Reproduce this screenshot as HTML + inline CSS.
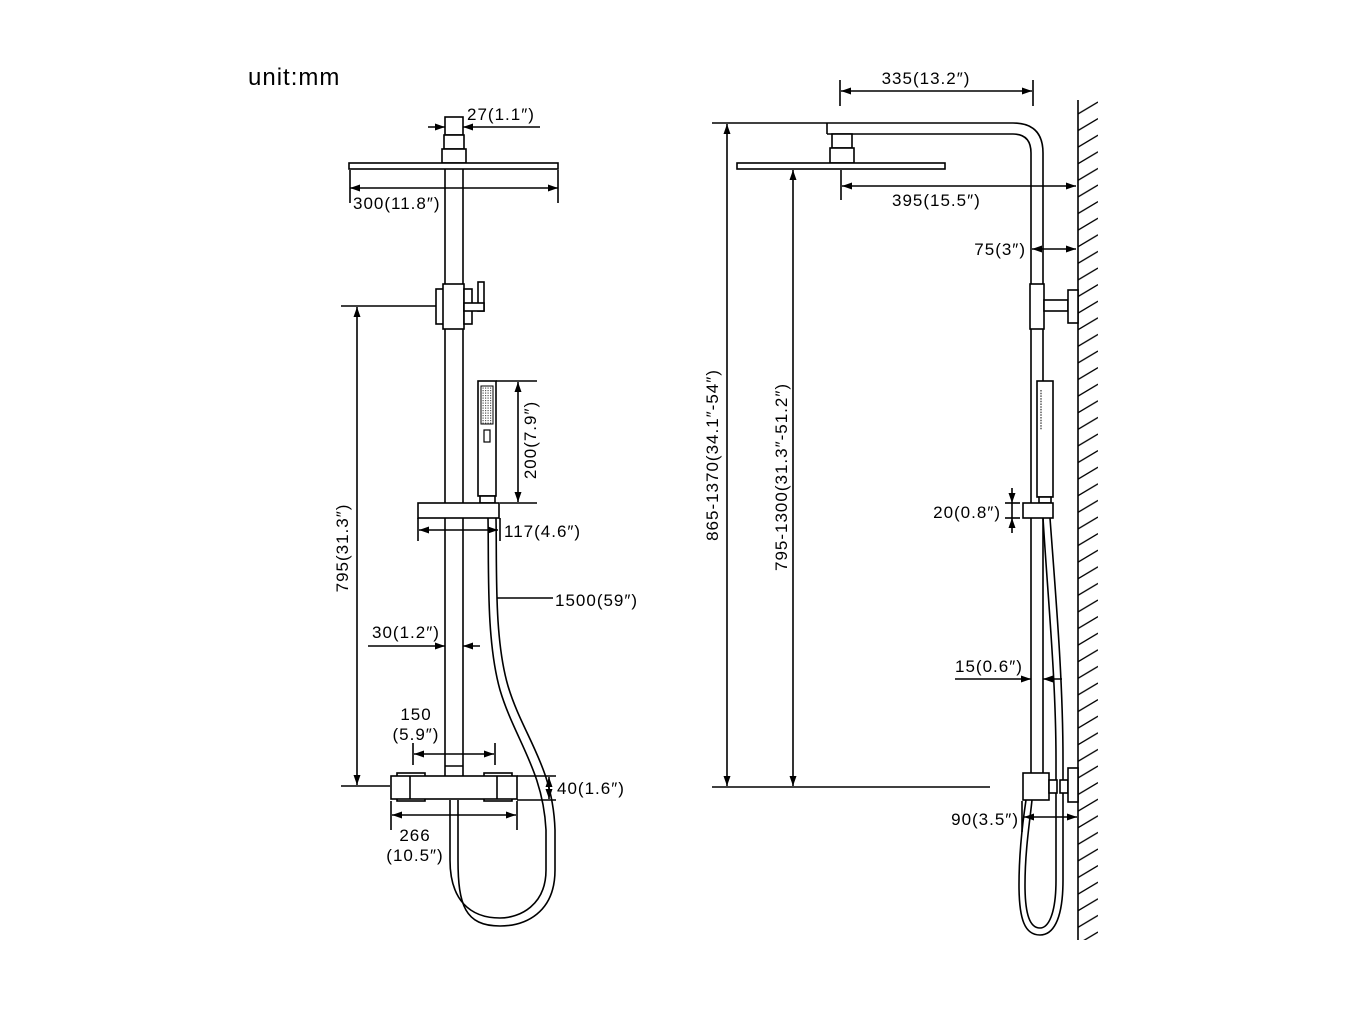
<!DOCTYPE html>
<html><head><meta charset="utf-8"><style>
html,body{margin:0;padding:0;background:#fff}
svg{display:block}
text{font-family:"Liberation Sans",Arial,sans-serif;font-size:17px;letter-spacing:1px;fill:#000}
</style></head><body>
<svg width="1346" height="1010" viewBox="0 0 1346 1010" xmlns="http://www.w3.org/2000/svg">
<defs>
<marker id="a" viewBox="0 0 10 10" refX="10" refY="5" markerWidth="10" markerHeight="10" markerUnits="userSpaceOnUse" orient="auto-start-reverse"><path d="M0,1.5 L10,5 L0,8.5 Z" fill="#000"/></marker>
<pattern id="h" width="20" height="16.6" patternUnits="userSpaceOnUse" x="1078" y="100"><line x1="0" y1="14" x2="20" y2="2" stroke="#000" stroke-width="1.3"/></pattern>
<pattern id="d" width="2.5" height="2.5" patternUnits="userSpaceOnUse"><rect width="1.2" height="1.2" fill="#555"/></pattern>
</defs>
<g stroke="#000" stroke-width="1.6" fill="none">
<text x="248" y="85" style="font-size:24px;letter-spacing:1px" stroke="none">unit:mm</text>

<!-- LEFT VIEW -->
<rect x="445" y="117" width="18" height="18" fill="#fff"/>
<rect x="444" y="135" width="20" height="14" fill="#fff"/>
<rect x="442" y="149" width="24" height="14" fill="#fff"/>
<rect x="349" y="163" width="209" height="6" fill="#fff"/>
<line x1="445" y1="169" x2="445" y2="776"/><line x1="463" y1="169" x2="463" y2="776"/>
<line x1="445" y1="766" x2="463" y2="766"/>
<line x1="428" y1="127" x2="445" y2="127" marker-end="url(#a)"/>
<line x1="540" y1="127" x2="463" y2="127" marker-end="url(#a)"/>
<text x="467" y="120" stroke="none">27(1.1″)</text>
<line x1="350" y1="170" x2="350" y2="203"/><line x1="558" y1="170" x2="558" y2="203"/>
<line x1="350" y1="188" x2="558" y2="188" marker-start="url(#a)" marker-end="url(#a)"/>
<text x="353" y="209" stroke="none">300(11.8″)</text>
<rect x="436" y="289" width="8" height="35" fill="#fff"/>
<rect x="443" y="284" width="21" height="45" fill="#fff"/>
<rect x="464" y="289" width="8" height="35" fill="#fff"/>
<rect x="478" y="282" width="6" height="29" fill="#fff"/>
<rect x="464" y="303" width="20" height="8" fill="#fff"/>
<line x1="341" y1="306" x2="436" y2="306"/>
<line x1="341" y1="786" x2="390" y2="786"/>
<line x1="357" y1="307" x2="357" y2="785" marker-start="url(#a)" marker-end="url(#a)"/>
<text transform="translate(348,548) rotate(-90)" text-anchor="middle" stroke="none">795(31.3″)</text>
<rect x="478" y="381" width="18" height="115" fill="#fff"/>
<rect x="481" y="386" width="12" height="38" stroke-width="1" fill="url(#d)"/>
<rect x="484" y="430" width="6" height="12" stroke-width="1.2"/>
<rect x="480" y="496" width="15" height="7" fill="#fff"/>
<line x1="496" y1="381" x2="537" y2="381"/><line x1="500" y1="503" x2="537" y2="503"/>
<line x1="518" y1="382" x2="518" y2="502" marker-start="url(#a)" marker-end="url(#a)"/>
<text transform="translate(536,440) rotate(-90)" text-anchor="middle" stroke="none">200(7.9″)</text>
<rect x="418" y="503" width="81" height="15" fill="#fff"/>
<line x1="418" y1="518" x2="418" y2="541"/><line x1="500" y1="518" x2="500" y2="541"/>
<line x1="419" y1="530" x2="498" y2="530" marker-start="url(#a)" marker-end="url(#a)"/>
<text x="504" y="537" stroke="none">117(4.6″)</text>
<path d="M488,518 C489,570 486,640 500,690 C515,740 543,770 546,830 L546,870 C546,905 520,918 500,918 C470,918 450,900 450,860 L450,800"/>
<path d="M496,518 C497,570 494,638 508,686 C523,736 553,766 555,830 L555,870 C555,913 525,926 500,926 C465,926 458,905 458,860 L458,800"/>
<line x1="497" y1="598" x2="553" y2="598"/>
<text x="555" y="606" stroke="none">1500(59″)</text>
<line x1="368" y1="646" x2="445" y2="646" marker-end="url(#a)"/>
<line x1="480" y1="646" x2="463" y2="646" marker-end="url(#a)"/>
<text x="372" y="638" stroke="none">30(1.2″)</text>
<text x="416" y="720" text-anchor="middle" stroke="none">150</text>
<text x="416" y="740" text-anchor="middle" stroke="none">(5.9″)</text>
<line x1="413" y1="743" x2="413" y2="765"/><line x1="495" y1="743" x2="495" y2="765"/>
<line x1="414" y1="754" x2="494" y2="754" marker-start="url(#a)" marker-end="url(#a)"/>
<rect x="397" y="773" width="28" height="28" fill="#fff"/>
<rect x="484" y="773" width="28" height="28" fill="#fff"/>
<rect x="391" y="776" width="126" height="23" fill="#fff"/>
<line x1="410" y1="776" x2="410" y2="799"/><line x1="497" y1="776" x2="497" y2="799"/>
<line x1="517" y1="776" x2="556" y2="776"/><line x1="517" y1="800" x2="556" y2="800"/>
<line x1="549" y1="788" x2="549" y2="777" marker-end="url(#a)"/>
<line x1="549" y1="788" x2="549" y2="799" marker-end="url(#a)"/>
<text x="557" y="794" stroke="none">40(1.6″)</text>
<line x1="391" y1="801" x2="391" y2="830"/><line x1="517" y1="801" x2="517" y2="830"/>
<line x1="392" y1="815" x2="516" y2="815" marker-start="url(#a)" marker-end="url(#a)"/>
<text x="415" y="841" text-anchor="middle" stroke="none">266</text>
<text x="415" y="861" text-anchor="middle" stroke="none">(10.5″)</text>

<!-- RIGHT VIEW -->
<rect x="1078" y="100" width="20" height="840" fill="url(#h)" stroke="none"/>
<line x1="1078" y1="100" x2="1078" y2="940"/>
<path d="M827,123 L1013,123 Q1043,123 1043,153 L1043,773"/>
<path d="M827,134 L1013,134 Q1031,134 1031,153 L1031,773"/>
<line x1="827" y1="123" x2="827" y2="134"/>
<rect x="832" y="134" width="20" height="14" fill="#fff"/>
<rect x="830" y="148" width="24" height="15" fill="#fff"/>
<rect x="737" y="163" width="208" height="6" fill="#fff"/>
<line x1="840" y1="80" x2="840" y2="106"/><line x1="1033" y1="80" x2="1033" y2="106"/>
<line x1="841" y1="91" x2="1032" y2="91" marker-start="url(#a)" marker-end="url(#a)"/>
<text x="926" y="84" text-anchor="middle" stroke="none">335(13.2″)</text>
<line x1="841" y1="170" x2="841" y2="200"/>
<line x1="842" y1="186" x2="1076" y2="186" marker-start="url(#a)" marker-end="url(#a)"/>
<text x="892" y="206" stroke="none">395(15.5″)</text>
<line x1="1032" y1="249" x2="1076" y2="249" marker-start="url(#a)" marker-end="url(#a)"/>
<text x="1026" y="255" text-anchor="end" stroke="none">75(3″)</text>
<rect x="1030" y="284" width="14" height="45" fill="#fff"/>
<rect x="1044" y="300" width="24" height="11" fill="#fff"/>
<rect x="1068" y="290" width="10" height="33" fill="#fff"/>
<rect x="1037" y="381" width="16" height="116" fill="#fff"/>
<line x1="1041" y1="390" x2="1041" y2="430" stroke-width="1" stroke-dasharray="1.5 1.2"/>
<rect x="1039" y="497" width="12" height="6" fill="#fff"/>
<rect x="1023" y="503" width="30" height="15" fill="#fff"/>
<line x1="1005" y1="503" x2="1020" y2="503"/><line x1="1005" y1="518" x2="1020" y2="518"/>
<line x1="1012" y1="488" x2="1012" y2="503" marker-end="url(#a)"/>
<line x1="1012" y1="533" x2="1012" y2="518" marker-end="url(#a)"/>
<line x1="1012" y1="503" x2="1012" y2="518"/>
<text x="1001" y="518" text-anchor="end" stroke="none">20(0.8″)</text>
<path d="M1043,518 C1048,600 1056,680 1056,760 L1056,880 C1056,915 1048,928 1040,928 C1030,928 1025,915 1025,885 C1025,850 1030,820 1032,800"/>
<path d="M1050,518 C1056,600 1063,680 1063,760 L1063,880 C1063,922 1052,935 1040,935 C1025,935 1019,920 1019,885 C1019,850 1023,820 1026,800"/>
<line x1="955" y1="679" x2="1031" y2="679" marker-end="url(#a)"/>
<line x1="1062" y1="679" x2="1043" y2="679" marker-end="url(#a)"/>
<text x="955" y="672" stroke="none">15(0.6″)</text>
<rect x="1023" y="773" width="26" height="27" fill="#fff"/>
<rect x="1049" y="780" width="8" height="13" fill="#fff"/>
<rect x="1060" y="780" width="8" height="13" fill="#fff"/>
<rect x="1068" y="768" width="10" height="34" fill="#fff"/>
<line x1="1022" y1="801" x2="1022" y2="832"/>
<line x1="1024" y1="817" x2="1077" y2="817" marker-start="url(#a)" marker-end="url(#a)"/>
<text x="1019" y="825" text-anchor="end" stroke="none">90(3.5″)</text>
<line x1="712" y1="123" x2="827" y2="123"/>
<line x1="712" y1="787" x2="990" y2="787"/>
<line x1="727" y1="124" x2="727" y2="786" marker-start="url(#a)" marker-end="url(#a)"/>
<text transform="translate(718,455) rotate(-90)" text-anchor="middle" stroke="none">865-1370(34.1″-54″)</text>
<line x1="793" y1="170" x2="793" y2="786" marker-start="url(#a)" marker-end="url(#a)"/>
<text transform="translate(787,477) rotate(-90)" text-anchor="middle" stroke="none">795-1300(31.3″-51.2″)</text>
</g>
</svg>
</body></html>
